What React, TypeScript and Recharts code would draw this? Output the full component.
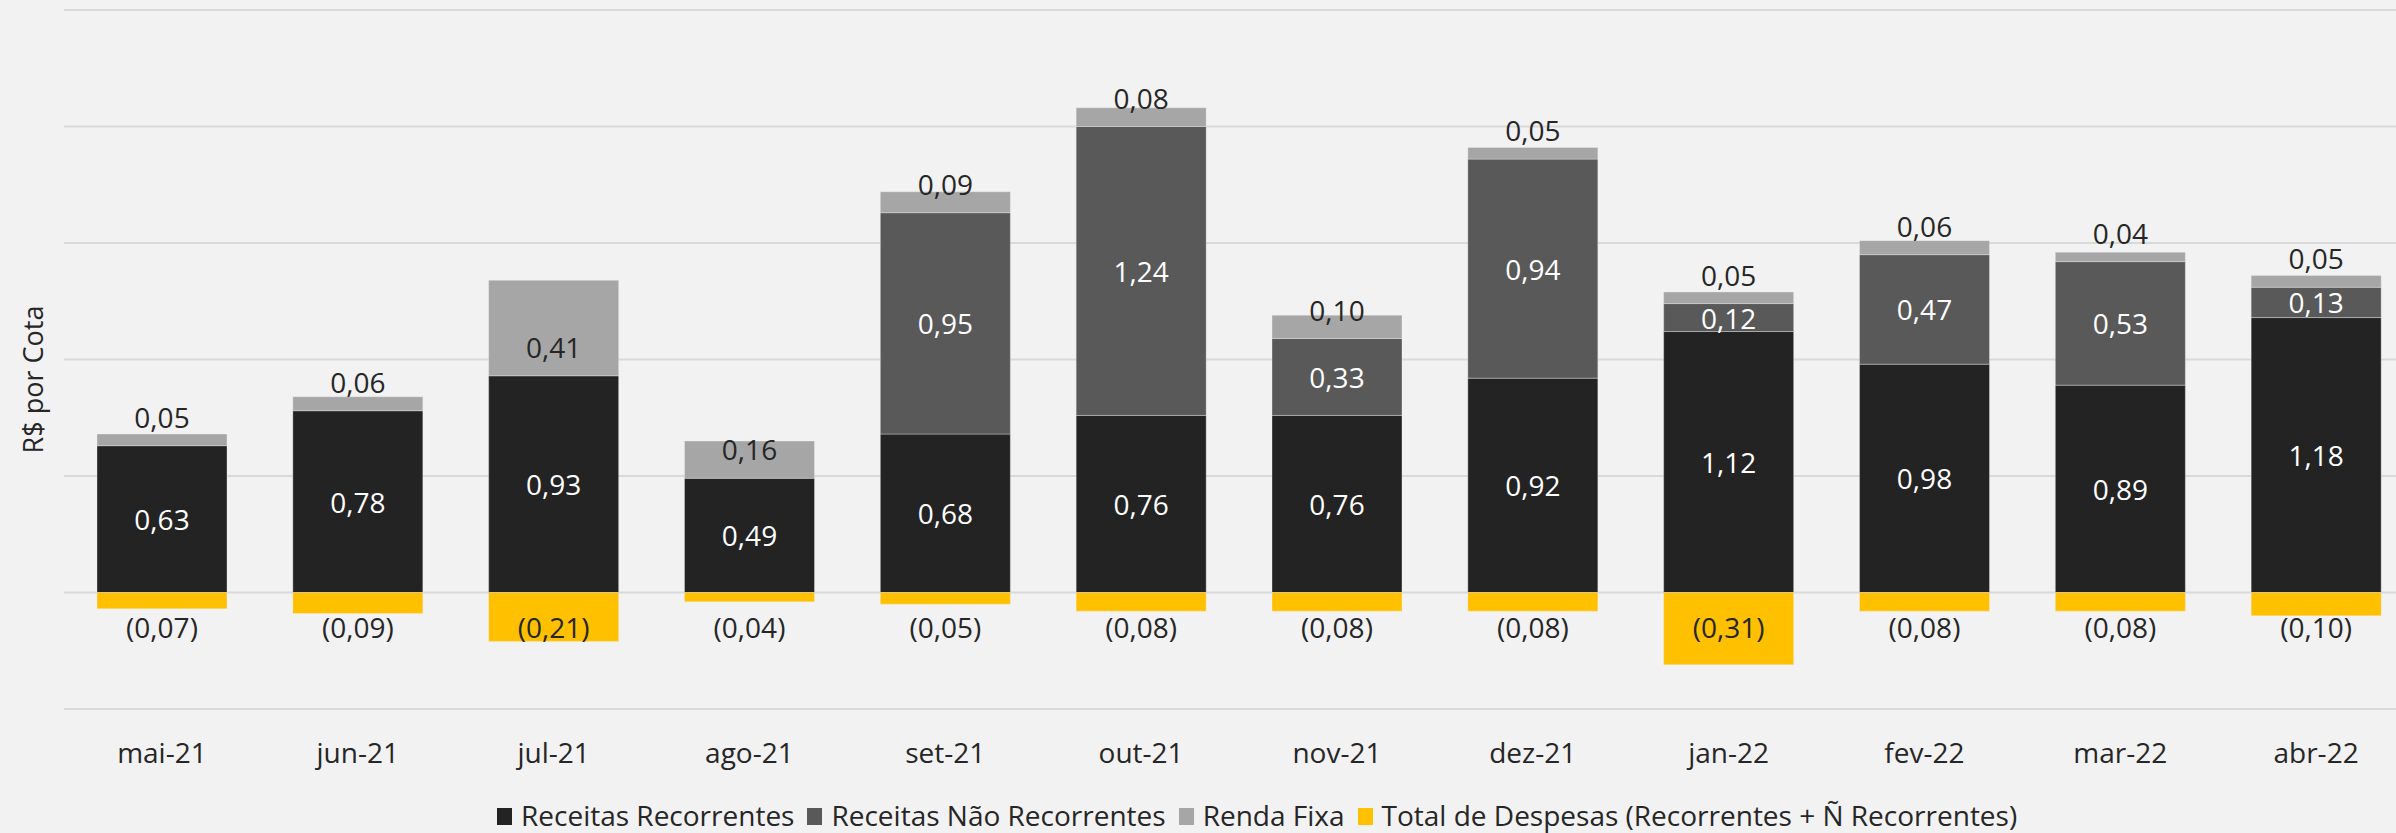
import React from 'react';
import { BarChart, Bar, XAxis, YAxis, CartesianGrid, Legend, LabelList } from 'recharts';

const categories = ['mai-21', 'jun-21', 'jul-21', 'ago-21', 'set-21', 'out-21', 'nov-21', 'dez-21', 'jan-22', 'fev-22', 'mar-22', 'abr-22'];
const receitasRecorrentes = [0.63, 0.78, 0.93, 0.49, 0.68, 0.76, 0.76, 0.92, 1.12, 0.98, 0.89, 1.18];
const receitasNaoRecorrentes = [0, 0, 0, 0, 0.95, 1.24, 0.33, 0.94, 0.12, 0.47, 0.53, 0.13];
const rendaFixa = [0.05, 0.06, 0.41, 0.16, 0.09, 0.08, 0.10, 0.05, 0.05, 0.06, 0.04, 0.05];
const despesas = [-0.07, -0.09, -0.21, -0.04, -0.05, -0.08, -0.08, -0.08, -0.31, -0.08, -0.08, -0.10];
const yTicks = [-0.5, 0, 0.5, 1, 1.5, 2, 2.5];

const seriesNames = ['Receitas Recorrentes', 'Receitas Não Recorrentes', 'Renda Fixa', 'Total de Despesas (Recorrentes + Ñ Recorrentes)'];
const seriesColors = ['#232323', '#595959', '#a6a6a6', '#ffc000'];

const data = categories.map((c, i) => ({
  cat: c,
  rec: receitasRecorrentes[i],
  naoRec: receitasNaoRecorrentes[i],
  renda: rendaFixa[i],
  desp: despesas[i],
}));

const FONT = "'Open Sans', sans-serif";
const DARK = '#262626';

const fmt = (v: number) => {
  if (v === 0) return '-';
  const s = Math.abs(v).toFixed(2).replace('.', ',');
  return v < 0 ? `(${s})` : s;
};

const CenterLabel = (props: any) => {
  const { x, y, width, height, value } = props;
  const v = Number(value);
  const top = Math.min(Number(y), Number(y) + Number(height));
  const h = Math.abs(Number(height));
  return (
    <text x={Number(x) + Number(width) / 2} y={top + h / 2} textAnchor="middle" dominantBaseline="central"
      fill="#ffffff" fontFamily={FONT} fontSize={28}>{fmt(v)}</text>
  );
};

const RendaLabel = (props: any) => {
  const { x, y, width, height, value } = props;
  const top = Math.min(Number(y), Number(y) + Number(height));
  const bottom = top + Math.abs(Number(height));
  return (
    <text x={Number(x) + Number(width) / 2} y={bottom - 29} textAnchor="middle" dominantBaseline="central"
      fill={DARK} fontFamily={FONT} fontSize={28}>{fmt(Number(value))}</text>
  );
};

const DespLabel = (props: any) => {
  const { x, y, width, height, value } = props;
  const top = Math.min(Number(y), Number(y) + Number(height));
  return (
    <text x={Number(x) + Number(width) / 2} y={top + 34} textAnchor="middle" dominantBaseline="central"
      fill={DARK} fontFamily={FONT} fontSize={28}>{fmt(Number(value))}</text>
  );
};

const XTick = (props: any) => {
  const { x, y, payload } = props;
  return (
    <text x={x} y={Number(y) + 43} textAnchor="middle" dominantBaseline="central" fill={DARK}
      fontFamily={FONT} fontSize={28}>{payload.value}</text>
  );
};

const EmptyTick = () => <g />;

const YTitle = (props: any) => {
  const vb = props.viewBox || { x: 0, y: 10, width: 64, height: 699 };
  const cx = vb.x + 32;
  const cy = vb.y + vb.height / 2 + 20;
  return (
    <text x={cx} y={cy} transform={`rotate(-90, ${cx}, ${cy})`} textAnchor="middle" dominantBaseline="central"
      fill={DARK} fontFamily={FONT} fontSize={27}>R$ por Cota</text>
  );
};

const LegendContent = () => (
  <div style={{ height: 50, boxSizing: 'border-box', paddingTop: 13, paddingLeft: 497, fontFamily: FONT, fontSize: 28, lineHeight: '38px', color: DARK, whiteSpace: 'nowrap' }}>
    {seriesNames.map((n, i) => (
      <span key={n} style={{ display: 'inline-block', marginRight: 13, verticalAlign: 'top' }}>
        <span style={{ display: 'inline-block', width: 15, height: 17, background: seriesColors[i], marginRight: 9, verticalAlign: 'middle', position: 'relative', top: -2 }} />
        <span style={{ display: 'inline-block' }}>{n}</span>
      </span>
    ))}
  </div>
);

export default function App() {
  return (
    <div style={{ position: 'fixed', left: 0, top: 0, width: 2396, height: 833, overflow: 'hidden', background: '#f2f2f2' }}>
      <BarChart width={2420} height={833} data={data} stackOffset="sign" barCategoryGap={33}
        margin={{ top: 10, right: 6, left: 0, bottom: 0 }}>
        <CartesianGrid vertical={false} stroke="#d9d9d9" strokeWidth={2} />
        <XAxis dataKey="cat" axisLine={false} tickLine={false} tickSize={0} tickMargin={0} height={74} tick={<XTick />} interval={0} />
        <YAxis width={64} domain={[-0.5, 2.5]} ticks={yTicks} tick={<EmptyTick />} interval={0} axisLine={false} tickLine={false} label={<YTitle />} />
        <Legend verticalAlign="bottom" align="left" content={<LegendContent />} wrapperStyle={{ left: 0, width: 2396, height: 50 }} />
        <Bar dataKey="rec" name={seriesNames[0]} stackId="a" fill={seriesColors[0]} stroke="#f2f2f2" strokeOpacity={0.35} strokeWidth={1} isAnimationActive={false}>
          <LabelList dataKey="rec" content={<CenterLabel />} />
        </Bar>
        <Bar dataKey="naoRec" name={seriesNames[1]} stackId="a" fill={seriesColors[1]} stroke="#f2f2f2" strokeOpacity={0.35} strokeWidth={1} isAnimationActive={false}>
          <LabelList dataKey="naoRec" content={<CenterLabel />} />
        </Bar>
        <Bar dataKey="renda" name={seriesNames[2]} stackId="a" fill={seriesColors[2]} stroke="#f2f2f2" strokeOpacity={0.35} strokeWidth={1} isAnimationActive={false}>
          <LabelList dataKey="renda" content={<RendaLabel />} />
        </Bar>
        <Bar dataKey="desp" name={seriesNames[3]} stackId="a" fill={seriesColors[3]} stroke="#f2f2f2" strokeOpacity={0.35} strokeWidth={1} isAnimationActive={false}>
          <LabelList dataKey="desp" content={<DespLabel />} />
        </Bar>
      </BarChart>
    </div>
  );
}
